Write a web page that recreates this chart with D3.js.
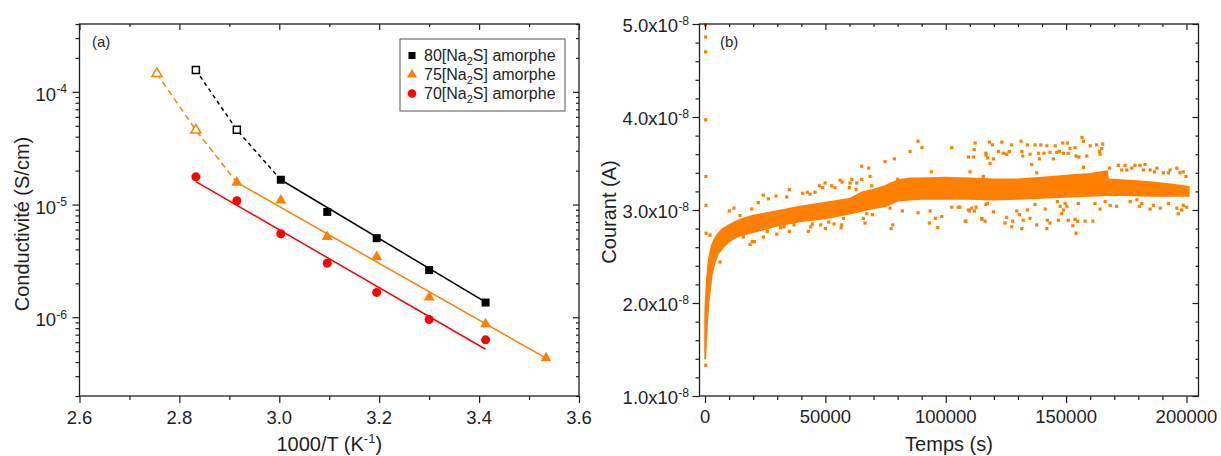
<!DOCTYPE html>
<html><head><meta charset="utf-8">
<script src="https://cdn.jsdelivr.net/npm/d3@7"></script>
<style>
body{margin:0;background:#fff;}
svg{display:block;font-family:"Liberation Sans",Arial,sans-serif;}
</style></head><body>
<svg id="chart" width="1221" height="456"></svg>
<script>
// ================= DATA : panel (a) =================
const xTicksA = [2.6, 2.8, 3.0, 3.2, 3.4, 3.6];
const xMinorA = [2.7, 2.9, 3.1, 3.3, 3.5];
const yDomainA = [2e-7, 4e-4];
const seriesNames = ["80[Na|2|S] amorphe", "75[Na|2|S] amorphe", "70[Na|2|S] amorphe"];

const s80X = [2.833, 2.915, 3.003, 3.096, 3.195, 3.300, 3.413];
const s80Y = [1.56e-4, 4.6e-5, 1.66e-5, 8.6e-6, 5.03e-6, 2.62e-6, 1.35e-6];
const s80Open = 2;                 // first n points are open symbols (dashed part)
const fit80X = [3.003, 3.413];
const fit80Y = [1.66e-5, 1.36e-6];

const s75X = [2.755, 2.833, 2.915, 3.003, 3.096, 3.195, 3.300, 3.413, 3.534];
const s75Y = [1.45e-4, 4.57e-5, 1.57e-5, 1.09e-5, 5.16e-6, 3.44e-6, 1.50e-6, 8.7e-7, 4.33e-7];
const s75Open = 2;
const fit75X = [2.915, 3.534];
const fit75Y = [1.57e-5, 4.33e-7];

const s70X = [2.833, 2.915, 3.003, 3.096, 3.195, 3.300, 3.413];
const s70Y = [1.76e-5, 1.08e-5, 5.5e-6, 3.02e-6, 1.66e-6, 9.55e-7, 6.3e-7];
const fit70X = [2.833, 3.413];
const fit70Y = [1.6e-5, 5.2e-7];

// ================= DATA : panel (b) =================
// current in units of 1e-8 A, time in s
const xTicksB = [0, 50000, 100000, 150000, 200000];
const yTicksB = [1, 2, 3, 4, 5];
const bandTime = [0, 100, 400, 800, 1250, 1600, 2000, 2800, 4000, 5200, 7500, 10000, 12400, 15000, 20000,
  30000, 40000, 50000, 60000, 65000, 70000, 75000, 80000, 85000, 90000, 100000, 110000, 120000, 130000,
  140000, 150000, 160000, 167000, 167500, 175000, 185000, 195000, 201000];
const bandHigh = [1.80, 1.95, 2.10, 2.28, 2.40, 2.47, 2.53, 2.62, 2.69, 2.74, 2.80, 2.84, 2.87, 2.90, 2.94,
  2.99, 3.04, 3.08, 3.12, 3.19, 3.22, 3.26, 3.32, 3.34, 3.34, 3.35, 3.34, 3.33, 3.33,
  3.35, 3.37, 3.39, 3.42, 3.33, 3.32, 3.30, 3.27, 3.25];
const bandLow = [1.40, 1.40, 1.55, 1.75, 1.92, 2.03, 2.12, 2.30, 2.43, 2.52, 2.60, 2.66, 2.70, 2.73, 2.76,
  2.83, 2.88, 2.91, 2.96, 2.99, 3.02, 3.04, 3.10, 3.11, 3.12, 3.12, 3.12, 3.11, 3.12,
  3.13, 3.14, 3.15, 3.16, 3.16, 3.16, 3.15, 3.15, 3.15];
const scatterPts = [
 [150,4.99],[200,4.86],[250,4.70],[300,3.97],[350,3.36],[400,3.05],[450,2.75],[300,1.33],
 [2080,2.73],[6230,2.44],[10100,2.99],[12050,3.02],[14540,2.94],[19400,3.01],[22140,3.08],[24220,3.16],
 [26300,3.12],[29500,3.15],[33940,3.14],[35020,3.22],[40590,3.18],[42500,3.19],[43620,3.17],[45700,3.19],
 [47490,3.26],[48900,3.24],[49860,3.29],[52640,3.26],[54010,3.24],[56090,3.32],[56920,3.30],[60240,3.29],
 [59950,3.24],[60950,3.33],[62740,3.22],[63030,3.29],[65100,3.47],[65100,3.33],[68010,3.45],[68550,3.36],
 [69260,3.26],[74780,3.52],[78650,3.55],[80060,3.33],[85170,3.63],[88490,3.74],[90150,3.67],[94020,3.41],
 [102500,3.67],[109400,3.57],[110100,3.41],[111500,3.57],[112200,3.72],[111800,3.65],[115600,3.36],
 [116700,3.59],[117400,3.56],
 [15900,2.71],[18700,2.63],[19650,2.66],[20480,2.66],[24220,2.71],[25880,2.77],[29790,2.74],[31450,2.81],
 [32820,2.82],[35020,2.77],[36980,2.84],[42920,2.77],[43910,2.82],[44580,2.85],[48070,2.84],[49980,2.80],
 [51390,2.87],[53590,2.85],[56500,2.81],[56790,2.84],[57460,2.91],[65770,2.91],[66470,2.86],[67180,2.96],
 [69510,2.95],[76860,3.02],[77280,2.80],[77980,2.84],[81970,2.99],[88490,2.97],[93190,2.86],[93480,2.99],
 [95680,2.91],[96680,2.81],[98340,2.93],[102500,3.03],[105200,3.03],[108100,2.88],[109800,2.99],
 [111900,2.99],[112600,3.03],[115000,2.91],[116300,2.88],[117300,3.07],
 [116700,3.61],[118100,3.73],[118400,3.50],[119400,3.70],[119800,3.55],[121900,3.63],[123300,3.73],
 [123900,3.61],[125300,3.60],[126400,3.63],[127400,3.70],[131300,3.74],[131600,3.63],[132000,3.58],
 [133900,3.70],[135000,3.60],[135700,3.49],[137100,3.70],[138500,3.61],[138900,3.55],[139500,3.70],
 [140800,3.61],[142000,3.69],[143300,3.62],[144700,3.55],[145500,3.69],[146100,3.62],[147200,3.63],
 [148600,3.72],[148900,3.61],[150500,3.72],[150900,3.61],[151600,3.66],[153700,3.67],[154100,3.58],
 [155300,3.57],[156600,3.78],[157200,3.46],[157200,3.74],[158600,3.58],[160000,3.69],[162700,3.70],
 [163800,3.63],[164100,3.60],[165200,3.71],[164800,3.66],[168000,3.45],[171700,3.48],[173100,3.43],
 [174500,3.48],[175200,3.43],[177300,3.45],[178600,3.48],[180700,3.48],[182100,3.43],[182800,3.49],
 [184900,3.43],[186700,3.41],[187700,3.45],[190400,3.40],[192500,3.40],[193200,3.43],[196000,3.45],
 [197300,3.40],[198700,3.41],[199800,3.36],[137800,3.40],
 [105900,3.03],[108400,2.88],[109400,3.00],[110800,3.02],[115000,2.90],[116700,3.06],[119800,2.98],
 [124600,2.86],[125300,2.92],[127400,2.82],[127800,2.88],[129500,2.99],[130600,2.95],[131600,2.80],
 [132200,2.89],[133900,3.00],[135000,2.91],[137800,2.84],[137100,3.06],[141300,3.01],[142000,2.80],
 [142200,2.89],[143300,2.86],[146400,3.09],[146800,2.89],[147500,3.04],[148200,2.96],[148900,3.00],
 [149600,3.07],[150300,3.04],[150900,2.89],[152800,2.83],[153700,2.90],[154100,2.75],[154800,2.88],
 [155100,3.07],[157900,2.88],[161100,2.88],[162000,3.07],[164100,3.01],[166200,3.09],[168300,3.05],
 [171000,3.04],[176600,3.09],[179400,3.11],[180400,3.04],[181400,3.07],[184900,3.01],[186300,3.05],
 [189100,3.02],[192500,3.07],[196000,3.02],[196600,2.96],[198000,3.00],[198700,3.05],[200100,3.03]
];

// ================= DRAWING =================
const svg = d3.select("#chart");
svg.append("rect").attr("width",1221).attr("height",456).attr("fill","#fff");
const ink = "#1f1f1f";
const cBlack = "#000000", cOrange = "#ff8000", cRed = "#ff0000";
const TICK_FS = 18.5;

function ticksAxis(g, axisFn, scale, values, size, tx, ty) {
  const a = g.append("g").attr("transform", `translate(${tx},${ty})`)
    .call(axisFn(scale).tickValues(values).tickSize(size).tickSizeOuter(0).tickFormat(""));
  a.select(".domain").remove();
  a.selectAll("line").attr("stroke", ink).attr("stroke-width", 1.2);
  return a;
}
function supText(g, x, y, anchor, base, sup, fs) {
  const t = g.append("text").attr("x", x).attr("y", y).attr("text-anchor", anchor)
    .attr("font-size", fs).attr("fill", ink);
  t.append("tspan").text(base);
  if (sup) t.append("tspan").attr("font-size", fs * 0.66).attr("dy", -fs * 0.4).text(sup);
  return t;
}

// ---------- Panel (a) ----------
const L = {x0: 79.5, x1: 579, y0: 24, y1: 396};
const xA = d3.scaleLinear().domain([xTicksA[0], xTicksA[xTicksA.length-1]]).range([L.x0, L.x1]);
const yA = d3.scaleLog().domain(yDomainA).range([L.y1, L.y0]);
const gA = svg.append("g");
const yAll = yA.ticks();
const yMaj = yAll.filter(v => Math.abs(Math.log10(v) - Math.round(Math.log10(v))) < 1e-9);
const yMin = yAll.filter(v => !yMaj.includes(v));

ticksAxis(gA, d3.axisBottom, xA, xTicksA, 7, 0, L.y1);
ticksAxis(gA, d3.axisBottom, xA, xMinorA, 4, 0, L.y1);
ticksAxis(gA, d3.axisBottom, xA, xTicksA, 6, 0, L.y0);
ticksAxis(gA, d3.axisBottom, xA, xMinorA, 3, 0, L.y0);
ticksAxis(gA, d3.axisLeft, yA, yMaj, 7, L.x0, 0);
ticksAxis(gA, d3.axisLeft, yA, yMin, 4, L.x0, 0);
ticksAxis(gA, d3.axisLeft, yA, yMaj, 6, L.x1, 0);
ticksAxis(gA, d3.axisLeft, yA, yMin, 3, L.x1, 0);
gA.append("rect").attr("x", L.x0).attr("y", L.y0).attr("width", L.x1-L.x0).attr("height", L.y1-L.y0)
  .attr("fill","none").attr("stroke", ink).attr("stroke-width", 1.3);

xTicksA.forEach(v => gA.append("text").attr("x", xA(v)).attr("y", 424).attr("text-anchor","middle")
  .attr("font-size", TICK_FS).attr("fill", ink).text(v.toFixed(1)));
yMaj.forEach(v => supText(gA, 67, yA(v) + 9, "end", "10", String(Math.round(Math.log10(v))).replace("-", "-"), TICK_FS));

// axis titles
const tA = gA.append("text").attr("x", (L.x0+L.x1)/2).attr("y", 451).attr("text-anchor","middle")
  .attr("font-size", 20).attr("fill", ink);
tA.append("tspan").text("1000/T (K");
tA.append("tspan").attr("font-size", 13).attr("dy", -8).text("-1");
tA.append("tspan").attr("dy", 8).text(")");
gA.append("text").attr("transform","translate(29,224) rotate(-90)").attr("text-anchor","middle")
  .attr("font-size", 20).attr("fill", ink).text("Conductivité (S/cm)");
gA.append("text").attr("x", 92).attr("y", 47).attr("font-size", 15).attr("fill", ink).text("(a)");

const lineA = d3.line().x(d => xA(d[0])).y(d => yA(d[1]));
const zip = (a, b) => a.map((v, i) => [v, b[i]]);
const sq = (s) => d3.symbol().type(d3.symbolSquare).size(s*s)();
const tri = (s) => d3.symbol().type(d3.symbolTriangle).size(s*s*Math.sqrt(3)/4)();
const circ = (dm) => d3.symbol().type(d3.symbolCircle).size(Math.PI*dm*dm/4)();

const seriesA = [
  {x: s80X, y: s80Y, open: s80Open, fx: fit80X, fy: fit80Y, color: cBlack, dash: "4,3.5", sym: sq(8), symOpen: sq(7)},
  {x: s75X, y: s75Y, open: s75Open, fx: fit75X, fy: fit75Y, color: cOrange, dash: "6,4", sym: tri(11), symOpen: tri(10)},
  {x: s70X, y: s70Y, open: 0, fx: fit70X, fy: fit70Y, color: cRed, dash: "6,4", sym: circ(9), symOpen: circ(8)}
];
seriesA.forEach(s => {
  const pts = zip(s.x, s.y);
  if (s.open > 0) {
    gA.append("path").attr("d", lineA(pts.slice(0, s.open + 1))).attr("fill","none")
      .attr("stroke", s.color).attr("stroke-width", 1.5).attr("stroke-dasharray", s.dash);
  }
  gA.append("path").attr("d", lineA(zip(s.fx, s.fy))).attr("fill","none")
    .attr("stroke", s.color).attr("stroke-width", 1.5);
  pts.forEach((p, i) => {
    const open = i < s.open;
    gA.append("path").attr("transform", `translate(${xA(p[0])},${yA(p[1])})`)
      .attr("d", open ? s.symOpen : s.sym)
      .attr("fill", open ? "#fff" : s.color)
      .attr("stroke", open ? s.color : "none").attr("stroke-width", 1.5);
  });
});

// legend
const leg = gA.append("g");
leg.append("rect").attr("x", 400).attr("y", 39).attr("width", 165).attr("height", 72)
  .attr("fill","#fff").attr("stroke","#555").attr("stroke-width",1);
const legSyms = [sq(7), tri(10), circ(8.5)];
seriesNames.forEach((nm, i) => {
  const cy = 55.5 + i * 19;
  leg.append("path").attr("transform", `translate(412,${cy})`).attr("d", legSyms[i])
    .attr("fill", seriesA[i].color);
  const parts = nm.split("|");
  const t = leg.append("text").attr("x", 424).attr("y", cy + 5.5).attr("font-size", 16).attr("fill", ink);
  t.append("tspan").text(parts[0]);
  t.append("tspan").attr("font-size", 11).attr("dy", 4).text(parts[1]);
  t.append("tspan").attr("dy", -4).text(parts[2]);
});

// ---------- Panel (b) ----------
const R = {x0: 699.5, x1: 1198.5, y0: 24, y1: 396};
const xB = d3.scaleLinear().domain([-2300, 205000]).range([R.x0, R.x1]);
const yB = d3.scaleLinear().domain([yTicksB[0], yTicksB[yTicksB.length-1]]).range([R.y1, R.y0]);
const gB = svg.append("g");
const xMinorB = d3.range(10000, 205000, 10000).filter(v => v % 50000 !== 0);
const yMinorB = d3.range(1, 5.001, 0.2).filter(v => Math.abs(v - Math.round(v)) > 1e-6);

// band (dense data) and scattered points
const clipB = svg.append("clipPath").attr("id","clipB").append("rect")
  .attr("x", R.x0).attr("y", R.y0).attr("width", R.x1-R.x0).attr("height", R.y1-R.y0);
const area = d3.area().x(d => xB(d[0])).y0(d => yB(d[1])).y1(d => yB(d[2]));
const bandData = bandTime.map((t, i) => [t, bandLow[i], bandHigh[i]]);
gB.append("path").attr("d", area(bandData)).attr("fill", cOrange)
  .attr("stroke", cOrange).attr("stroke-width", 1.6).attr("stroke-linejoin","round");
gB.selectAll("rect.pt").data(scatterPts).enter().append("rect").attr("class","pt")
  .attr("x", d => xB(d[0]) - 1.6).attr("y", d => yB(d[1]) - 1.6)
  .attr("width", 3.2).attr("height", 3.2).attr("fill", cOrange);

ticksAxis(gB, d3.axisBottom, xB, xTicksB, 7, 0, R.y1);
ticksAxis(gB, d3.axisBottom, xB, xMinorB, 4, 0, R.y1);
ticksAxis(gB, d3.axisBottom, xB, xTicksB, 6, 0, R.y0);
ticksAxis(gB, d3.axisBottom, xB, xMinorB, 3, 0, R.y0);
ticksAxis(gB, d3.axisLeft, yB, yTicksB, 7, R.x0, 0);
ticksAxis(gB, d3.axisLeft, yB, yMinorB, 4, R.x0, 0);
ticksAxis(gB, d3.axisLeft, yB, yTicksB, 6, R.x1, 0);
ticksAxis(gB, d3.axisLeft, yB, yMinorB, 3, R.x1, 0);
gB.append("rect").attr("x", R.x0).attr("y", R.y0).attr("width", R.x1-R.x0).attr("height", R.y1-R.y0)
  .attr("fill","none").attr("stroke", ink).attr("stroke-width", 1.3);

xTicksB.forEach(v => gB.append("text").attr("x", xB(v)).attr("y", 423).attr("text-anchor","middle")
  .attr("font-size", TICK_FS).attr("fill", ink).text(String(v)));
yTicksB.forEach(v => supText(gB, 689, yB(v) + 8, "end", v.toFixed(1) + "x10", "-8", TICK_FS));

gB.append("text").attr("x", (R.x0+R.x1)/2).attr("y", 451).attr("text-anchor","middle")
  .attr("font-size", 20).attr("fill", ink).text("Temps (s)");
gB.append("text").attr("transform","translate(616,212) rotate(-90)").attr("text-anchor","middle")
  .attr("font-size", 20).attr("fill", ink).text("Courant (A)");
gB.append("text").attr("x", 720).attr("y", 47).attr("font-size", 15).attr("fill", ink).text("(b)");
</script>
</body></html>
